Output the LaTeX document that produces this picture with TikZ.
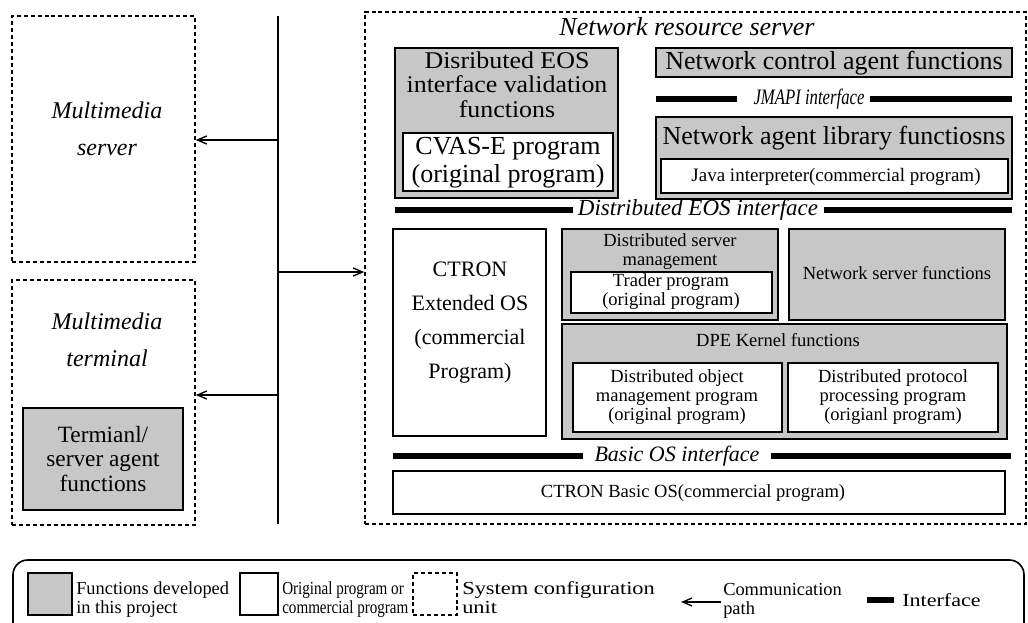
\documentclass[tikz,border=0pt]{standalone}
\usepackage{fontspec}
\usepackage{graphicx}
\setmainfont{Liberation Serif}
\usetikzlibrary{fit,arrows.meta}
\newcommand\fsz[2]{\fontsize{#1}{#2}\selectfont}
\newcommand\twol[2]{\begin{tabular}{@{}l@{}}#1\\#2\end{tabular}}
\newcommand\threec[3]{\begin{tabular}{@{}c@{}}#1\\#2\\#3\end{tabular}}
\begin{document}
\begin{tikzpicture}[x=0.75pt,y=-0.75pt,
  gbox/.style={draw, line width=1.3pt, fill=black!22, inner sep=0pt},
  wbox/.style={draw, line width=1.3pt, fill=white, inner sep=0pt},
  dbox/.style={draw, line width=1.1pt, dash pattern=on 3pt off 2.2pt, inner sep=0pt},
  ifbar/.style={line width=3.8pt},
  arr/.style={-{Straight Barb[length=7pt,width=6pt]}, line width=1pt},
  txt/.style={inner sep=0pt, align=center},
  big/.style={txt, font=\fsz{19.5}{19.5}},
  small/.style={txt, font=\fsz{13.9}{14.25}},
  ital/.style={txt, font=\fsz{#1}{#1}\itshape},
  leg/.style={inner sep=0pt, anchor=west, font=\fsz{13.8}{14.25}}
]
\useasboundingbox (0,0) rectangle (1028,623);

% left units
\node[dbox, fit={(12,16) (195,262)}] (mms) {};
\node[txt, font=\fsz{18}{27.75}\itshape] (mmstxt) at (107,129) {Multimedia\\server};
\node[dbox, fit={(12,280) (195,525)}] (mmt) {};
\node[txt, font=\fsz{18}{27.75}\itshape] (mmttxt) at (107,340) {Multimedia\\terminal};
\node[gbox, fit={(23,408) (183,510)}] (tsa) {};
\node[txt, font=\fsz{17.5}{18.5}] (tsatxt) at (103,459) {Termianl/\\server agent\\functions};

% bus
\coordinate (bustop) at (278,16);
\coordinate (busbot) at (278,524);
\draw[line width=1.1pt] (bustop) -- (busbot);
\coordinate (b1) at (278,140);
\coordinate (b2) at (278,272);
\coordinate (b3) at (278,395);

% network resource server
\node[dbox, fit={(365,12) (1026,524)}] (nrs) {};
\node[ital=19.5] (nrstxt) at (687,27) {Network resource server};

\node[gbox, fit={(395,48) (618,198)}] (deos) {};
\node[txt, font=\fsz{18}{18.3}] (deostxt) at (507,88) {\scalebox{1.08}[1]{\threec{Disributed EOS}{interface validation}{functions}}};
\node[wbox, fit={(403,133) (613,191)}] (cvas) {};
\node[txt, font=\fsz{19.5}{21}] (cvastxt) at (508,163) {CVAS-E program\\(original program)};

\node[gbox, fit={(656,48) (1012,77)}] (nca) {};
\node[big] (ncatxt) at (834,63) {Network control agent functions};

\draw[ifbar] (656,99) coordinate (j1) -- (737,99) coordinate (j2);
\draw[ifbar] (870,99) coordinate (j3) -- (1012,99) coordinate (j4);
\node[txt, font=\fsz{16.5}{16.5}\itshape] (jmapi) at (809,99) {\scalebox{0.76}[1]{JMAPI interface}};

\node[gbox, fit={(656,117) (1012,199)}] (nal) {};
\node[big] (naltxt) at (834,138) {Network agent library functiosns};
\node[wbox, fit={(661,159) (1008,193)}] (java) {};
\node[txt, font=\fsz{14.25}{14.25}] (javatxt) at (836,177) {Java interpreter(commercial program)};

\draw[ifbar] (395,210) coordinate (d1) -- (573,210) coordinate (d2);
\draw[ifbar] (824,210) coordinate (d3) -- (1012,210) coordinate (d4);
\node[ital=17.25] (deosif) at (698,210) {Distributed EOS interface};

\node[wbox, fit={(393,229) (546,436)}] (cext) {};
\node[txt, font=\fsz{16.5}{25.5}] (cexttxt) at (470,323) {CTRON\\Extended OS\\(commercial\\Program)};

\node[gbox, fit={(562,229) (778,320)}] (dsm) {};
\node[small] (dsmtxt) at (670,252) {Distributed server\\management};
\node[wbox, fit={(571,272) (772,313)}] (trader) {};
\node[small] (tradertxt) at (671,292) {Trader program\\(original program)};

\node[gbox, fit={(789,229) (1005,320)}] (nsf) {};
\node[small] (nsftxt) at (897,273) {Network server functions};

\node[gbox, fit={(562,324) (1007,439)}] (dpe) {};
\node[small] (dpetxt) at (778,340) {DPE Kernel functions};
\node[wbox, fit={(573,363) (782,432)}] (dom) {};
\node[small] (domtxt) at (677,397) {Distributed object\\management program\\(original program)};
\node[wbox, fit={(788,363) (998,432)}] (dpp) {};
\node[small] (dpptxt) at (893,397) {Distributed protocol\\processing program\\(origianl program)};

\draw[ifbar] (393,456) coordinate (o1) -- (583,456) coordinate (o2);
\draw[ifbar] (771,456) coordinate (o3) -- (1011,456) coordinate (o4);
\node[ital=16.5] (basicif) at (677,456) {Basic OS interface};

\node[wbox, fit={(393,471) (1005,514)}] (cbos) {};
\node[txt, font=\fsz{13.9}{13.9}] (cbostxt) at (693,493) {CTRON Basic OS(commercial program)};

% arrows
\draw[arr] (b1) -- (b1 -| mms.east);
\draw[arr] (b2) -- (b2 -| nrs.west);
\draw[arr] (b3) -- (b3 -| mmt.east);

% legend
\node[draw, line width=1.2pt, rounded corners=11pt, inner sep=0pt, fit={(13,560) (1024,650)}] (legend) {};
\node[gbox, line width=1pt, fit={(28,573) (72,615)}] (lg1) {};
\node[leg] (lt1) at (76,600) {\twol{Functions developed}{in this project}};
\node[wbox, line width=1pt, fit={(240,573) (278,615)}] (lg2) {};
\node[leg] (lt2) at (282,600) {\scalebox{0.82}[1]{\twol{Original program or}{commercial program}}};
\node[dbox, line width=0.9pt, fit={(413,573) (457,615)}] (lg3) {};
\node[leg] (lt3) at (462,600) {\scalebox{1.22}[1]{\twol{System configuration}{unit}}};
\coordinate (la1) at (721,602);
\coordinate (la2) at (681,602);
\draw[arr] (la1) -- (la2);
\node[leg] (lt4) at (723,601) {\twol{Communication}{path}};
\coordinate (li1) at (867,600);
\coordinate (li2) at (894,600);
\draw[line width=5pt] (li1) -- (li2);
\node[leg] (lt5) at (902,600) {\scalebox{1.2}[1]{Interface}};
\end{tikzpicture}
\end{document}
